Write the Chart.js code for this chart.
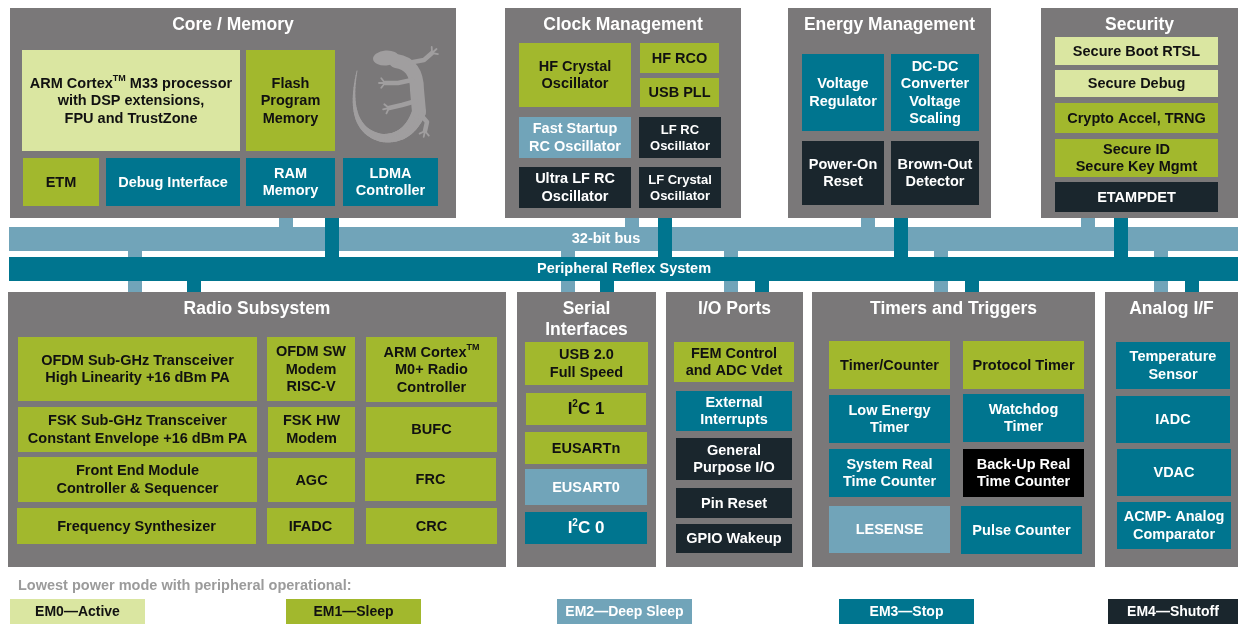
<!DOCTYPE html>
<html>
<head>
<meta charset="utf-8">
<title>EFR32 block diagram</title>
<script src="https://cdn.jsdelivr.net/npm/chart.js@4.4.1/dist/chart.umd.min.js"></script>
<style>
  html, body { margin:0; padding:0; background:#fff; }
  #wrap { width:1238px; height:624px; }
</style>
</head>
<body>
<div id="wrap"><canvas id="diagram" width="1238" height="624"></canvas></div>
<script>
  // ── DATA (diagram units: 0..1238 across, 0..624 down) ──
  // energy modes, index = mode used by each block
  const modeNames = ['EM0\u2014Active', 'EM1\u2014Sleep', 'EM2\u2014Deep Sleep', 'EM3\u2014Stop', 'EM4\u2014Shutoff'];
  const modeLegendX = [10, 286, 557, 839, 1108];

  // panels: [title, x0, y0, x1, y1]
  const panels = [
    ['Core / Memory', 10, 8, 456, 218],
    ['Clock Management', 505, 8, 741, 218],
    ['Energy Management', 788, 8, 991, 218],
    ['Security', 1041, 8, 1238, 218],
    ['Radio Subsystem', 8, 292, 506, 567],
    ['Serial\nInterfaces', 517, 292, 656, 567],
    ['I/O Ports', 666, 292, 803, 567],
    ['Timers and Triggers', 812, 292, 1095, 567],
    ['Analog I/F', 1105, 292, 1238, 567]
  ];

  // blocks: [label, mode, x0, y0, x1, y1]   (mode 5 = back-up domain, black)
  const coreBlocks = [
    ['ARM Cortex^TM^ M33 processor\nwith DSP extensions,\nFPU and TrustZone', 0, 22, 50, 240, 151],
    ['Flash\nProgram\nMemory', 1, 246, 50, 335, 151],
    ['ETM', 1, 23, 158, 99, 206],
    ['Debug Interface', 3, 106, 158, 240, 206],
    ['RAM\nMemory', 3, 246, 158, 335, 206],
    ['LDMA\nController', 3, 343, 158, 438, 206]
  ];
  const clockBlocks = [
    ['HF Crystal\nOscillator', 1, 519, 43, 631, 107],
    ['HF RCO', 1, 640, 43, 719, 73],
    ['USB PLL', 1, 640, 78, 719, 107],
    ['Fast Startup\nRC Oscillator', 2, 519, 117, 631, 158],
    ['LF RC\nOscillator', 4, 639, 117, 721, 158],
    ['Ultra LF RC\nOscillator', 4, 519, 167, 631, 208],
    ['LF Crystal\nOscillator', 4, 639, 167, 721, 208]
  ];
  const energyBlocks = [
    ['Voltage\nRegulator', 3, 802, 54, 884, 131],
    ['DC-DC\nConverter\nVoltage\nScaling', 3, 891, 54, 979, 131],
    ['Power-On\nReset', 4, 802, 141, 884, 205],
    ['Brown-Out\nDetector', 4, 891, 141, 979, 205]
  ];
  const securityBlocks = [
    ['Secure Boot RTSL', 0, 1055, 37, 1218, 65],
    ['Secure Debug', 0, 1055, 70, 1218, 97],
    ['Crypto Accel, TRNG', 1, 1055, 103, 1218, 133],
    ['Secure ID\nSecure Key Mgmt', 1, 1055, 139, 1218, 177],
    ['ETAMPDET', 4, 1055, 182, 1218, 212]
  ];
  const radioBlocks = [
    ['OFDM Sub-GHz Transceiver\nHigh Linearity +16 dBm PA', 1, 18, 337, 257, 401],
    ['OFDM SW\nModem\nRISC-V', 1, 267, 337, 355, 401],
    ['ARM Cortex^TM^\nM0+ Radio\nController', 1, 366, 337, 497, 402],
    ['FSK Sub-GHz Transceiver\nConstant Envelope +16 dBm PA', 1, 18, 407, 257, 452],
    ['FSK HW\nModem', 1, 268, 407, 355, 452],
    ['BUFC', 1, 366, 407, 497, 452],
    ['Front End Module\nController & Sequencer', 1, 18, 457, 257, 502],
    ['AGC', 1, 268, 458, 355, 502],
    ['FRC', 1, 365, 458, 496, 501],
    ['Frequency Synthesizer', 1, 17, 508, 256, 544],
    ['IFADC', 1, 267, 508, 354, 544],
    ['CRC', 1, 366, 508, 497, 544]
  ];
  const serialBlocks = [
    ['USB 2.0\nFull Speed', 1, 525, 342, 648, 385],
    ['I^2^C 1', 1, 526, 393, 646, 425],
    ['EUSARTn', 1, 525, 432, 647, 464],
    ['EUSART0', 2, 525, 469, 647, 505],
    ['I^2^C 0', 3, 525, 512, 647, 544]
  ];
  const ioBlocks = [
    ['FEM Control\nand ADC Vdet', 1, 674, 342, 794, 382],
    ['External\nInterrupts', 3, 676, 391, 792, 431],
    ['General\nPurpose I/O', 4, 676, 438, 792, 480],
    ['Pin Reset', 4, 676, 488, 792, 518],
    ['GPIO Wakeup', 4, 676, 524, 792, 553]
  ];
  const timerBlocks = [
    ['Timer/Counter', 1, 829, 341, 950, 389],
    ['Protocol Timer', 1, 963, 341, 1084, 389],
    ['Low Energy\nTimer', 3, 829, 395, 950, 443],
    ['Watchdog\nTimer', 3, 963, 394, 1084, 442],
    ['System Real\nTime Counter', 3, 829, 449, 950, 497],
    ['Back-Up Real\nTime Counter', 5, 963, 449, 1084, 497],
    ['LESENSE', 2, 829, 506, 950, 553],
    ['Pulse Counter', 3, 961, 506, 1082, 554]
  ];
  const analogBlocks = [
    ['Temperature\nSensor', 3, 1116, 342, 1230, 389],
    ['IADC', 3, 1116, 396, 1230, 443],
    ['VDAC', 3, 1117, 449, 1231, 496],
    ['ACMP- Analog\nComparator', 3, 1117, 502, 1231, 549]
  ];

  // buses: [label, x0, y0, x1, y1, labelX]
  const busMain = ['32-bit bus', 9, 227, 1238, 251, 606];
  const busPrs = ['Peripheral Reflex System', 9, 257, 1238, 281, 624];

  // bus taps (left edge, 14 wide)
  const busTapsAbove = [279, 625, 861, 1081];   // panel -> 32-bit bus
  const prsTapsAbove = [325, 658, 894, 1114];   // panel -> PRS
  const busTapsBelow = [128, 561, 724, 934, 1154];
  const prsTapsBelow = [187, 600, 755, 965, 1185];

  // ── STYLE ──
  const FONT = '"Liberation Sans", Arial, Helvetica, sans-serif';
  const modeFill = ['#dae6a1', '#a2b82d', '#71a4b9', '#00758f', '#1a262d', '#000000'];
  const modeText = ['#111', '#111', '#fff', '#fff', '#fff', '#fff'];
  const panelFill = '#7a7879';
  const fontOverride = { 'LF RC\nOscillator': 13, 'LF Crystal\nOscillator': 13, 'I^2^C 1': 17, 'I^2^C 0': 17 };

  const allBlocks = [].concat(coreBlocks, clockBlocks, energyBlocks, securityBlocks,
    radioBlocks, serialBlocks, ioBlocks, timerBlocks, analogBlocks);

  // draws one line with ^sup^ segments, centred at cx
  function richLine(ctx, line, cx, cy, size, color) {
    const parts = line.split('^');
    let total = 0;
    const widths = parts.map((p, i) => {
      ctx.font = 'bold ' + (i % 2 ? Math.round(size * 0.6) : size) + 'px ' + FONT;
      const w = ctx.measureText(p).width;
      total += w;
      return w;
    });
    let x = cx - total / 2;
    ctx.fillStyle = color;
    ctx.textAlign = 'left';
    ctx.textBaseline = 'middle';
    parts.forEach((p, i) => {
      const sup = i % 2 === 1;
      ctx.font = 'bold ' + (sup ? Math.round(size * 0.6) : size) + 'px ' + FONT;
      ctx.fillText(p, x, sup ? cy - size * 0.33 : cy);
      x += widths[i];
    });
  }

  function textBlock(ctx, text, cx, cy, size, color, lh) {
    const lines = text.split('\n');
    const start = cy - (lines.length - 1) * lh / 2;
    lines.forEach((l, i) => richLine(ctx, l, cx, start + i * lh, size, color));
  }

  const diagramPlugin = {
    id: 'blockDiagram',
    afterDraw(chart) {
      const ctx = chart.ctx;
      const sx = chart.scales.x, sy = chart.scales.y;
      const X = v => sx.getPixelForValue(v);
      const Y = v => sy.getPixelForValue(v);
      const rect = (x0, y0, x1, y1, fill) => {
        ctx.fillStyle = fill;
        ctx.fillRect(X(x0), Y(y0), X(x1) - X(x0), Y(y1) - Y(y0));
      };
      ctx.save();

      // panels + titles
      panels.forEach(p => {
        rect(p[1], p[2], p[3], p[4], panelFill);
        const n = p[0].split('\n').length;
        textBlock(ctx, p[0], (X(p[1]) + X(p[3])) / 2, Y(p[2]) + 17 + (n - 1) * 10.5, 17.5, '#fff', 21);
      });

      // gecko logo in the core panel
      drawGecko(ctx, X, Y);

      // buses and taps
      rect(busMain[1], busMain[2], busMain[3], busMain[4], modeFill[2]);
      busTapsAbove.forEach(t => rect(t, 218, t + 14, busMain[2], modeFill[2]));
      busTapsBelow.forEach(t => rect(t, busMain[4], t + 14, 292, modeFill[2]));
      rect(busPrs[1], busPrs[2], busPrs[3], busPrs[4], modeFill[3]);
      prsTapsAbove.forEach(t => rect(t, 218, t + 14, busPrs[2], modeFill[3]));
      prsTapsBelow.forEach(t => rect(t, busPrs[4], t + 14, 292, modeFill[3]));
      richLine(ctx, busMain[0], X(busMain[5]), (Y(busMain[2]) + Y(busMain[4])) / 2, 14.5, '#fff');
      richLine(ctx, busPrs[0], X(busPrs[5]), (Y(busPrs[2]) + Y(busPrs[4])) / 2, 14.5, '#fff');

      // blocks
      allBlocks.forEach(b => {
        rect(b[2], b[3], b[4], b[5], modeFill[b[1]]);
        const size = fontOverride[b[0]] || 14.5;
        textBlock(ctx, b[0], (X(b[2]) + X(b[4])) / 2, (Y(b[3]) + Y(b[5])) / 2 + 0.5, size, modeText[b[1]], size <= 13 ? 16 : 17.5);
      });

      // legend
      ctx.font = 'bold 14.5px ' + FONT;
      ctx.fillStyle = '#9b9b9b';
      ctx.textAlign = 'left';
      ctx.textBaseline = 'middle';
      ctx.fillText('Lowest power mode with peripheral operational:', X(18), Y(586));
      modeNames.forEach((m, i) => {
        const x0 = modeLegendX[i], x1 = Math.min(x0 + 135, 1238);
        rect(x0, 599, x1, 624, modeFill[i]);
        richLine(ctx, m, (X(x0) + X(x1)) / 2, Y(612), 14, modeText[i]);
      });
      ctx.restore();
    }
  };

  // rough gecko silhouette (decoration, not data)
  function drawGecko(ctx, X, Y) {
    ctx.save();
    const c = '#a09e9f';
    ctx.strokeStyle = c;
    ctx.fillStyle = c;
    ctx.lineCap = 'round';
    ctx.lineJoin = 'round';
    // tail: tapering stroke, hip -> bottom -> up the left side
    const q = (a, b, c2, u) => (1 - u) * (1 - u) * a + 2 * (1 - u) * u * b + u * u * c2;
    const seg = 48;
    let prev = null;
    for (let i = 0; i <= seg; i++) {
      const t = i / seg;
      let px, py;
      if (t <= 0.45) {
        const u = t / 0.45;
        px = q(419, 408, 382, u); py = q(112, 140, 138, u);
      } else {
        const u = (t - 0.45) / 0.55;
        px = q(382, 345, 357, u); py = q(138, 130, 71, u);
      }
      if (prev) {
        ctx.lineWidth = 13 * (1 - t) + 1;
        ctx.beginPath();
        ctx.moveTo(X(prev[0]), Y(prev[1]));
        ctx.lineTo(X(px), Y(py));
        ctx.stroke();
      }
      prev = [px, py];
    }
    // body
    ctx.lineWidth = 14;
    ctx.beginPath();
    ctx.moveTo(X(396), Y(61));
    ctx.quadraticCurveTo(X(417), Y(64), X(417), Y(90));
    ctx.lineTo(X(419), Y(112));
    ctx.stroke();
    // head
    ctx.beginPath();
    ctx.ellipse(X(386), Y(58), 13, 7.5, -0.08, 0, Math.PI * 2);
    ctx.fill();
    // legs
    const legs = [
      [[408, 63], [424, 60], [432, 53]],
      [[412, 80], [398, 83], [385, 83]],
      [[416, 101], [402, 105], [389, 108]],
      [[421, 115], [427, 122], [425, 131]]
    ];
    legs.forEach(l => {
      ctx.lineWidth = 4.5;
      ctx.beginPath();
      ctx.moveTo(X(l[0][0]), Y(l[0][1]));
      ctx.lineTo(X(l[1][0]), Y(l[1][1]));
      ctx.lineTo(X(l[2][0]), Y(l[2][1]));
      ctx.stroke();
      // toes
      ctx.lineWidth = 1.8;
      const a = Math.atan2(l[2][1] - l[1][1], l[2][0] - l[1][0]);
      [-0.9, 0, 0.9].forEach(o => {
        ctx.beginPath();
        ctx.moveTo(X(l[2][0]), Y(l[2][1]));
        ctx.lineTo(X(l[2][0] + Math.cos(a + o) * 6), Y(l[2][1] + Math.sin(a + o) * 6));
        ctx.stroke();
      });
    });
    ctx.restore();
  }

  new Chart(document.getElementById('diagram').getContext('2d'), {
    type: 'scatter',
    data: { datasets: [] },
    options: {
      responsive: false,
      animation: false,
      layout: { padding: 0 },
      plugins: { legend: { display: false }, tooltip: { enabled: false } },
      scales: {
        x: { type: 'linear', min: 0, max: 1238, display: false },
        y: { type: 'linear', min: 0, max: 624, reverse: true, display: false }
      }
    },
    plugins: [diagramPlugin]
  });
</script>
</body>
</html>
